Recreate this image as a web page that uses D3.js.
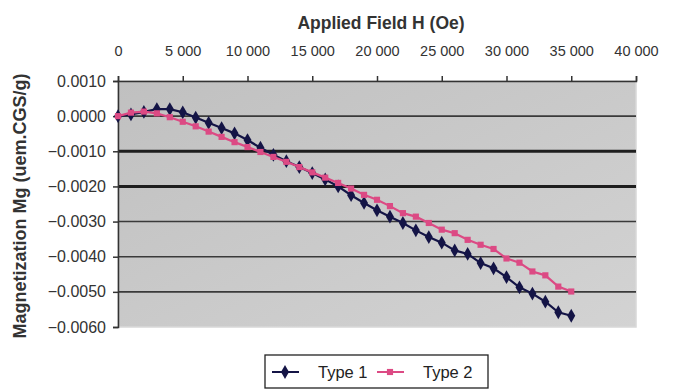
<!DOCTYPE html>
<html><head><meta charset="utf-8">
<script src="https://cdn.jsdelivr.net/npm/d3@7/dist/d3.min.js"></script>
<style>
body{margin:0;background:#fff}
svg{display:block;font-family:"Liberation Sans",Arial,sans-serif}
</style>
</head><body>
<svg id="chart" width="683" height="392"></svg>
<script>
// ---- data ----
const fieldH = [0,1000,2000,3000,4000,5000,6000,7000,8000,9000,10000,11000,12000,13000,14000,15000,16000,17000,18000,19000,20000,21000,22000,23000,24000,25000,26000,27000,28000,29000,30000,31000,32000,33000,34000,35000];
const type1 = [0.00000,0.00005,0.00012,0.00020,0.00020,0.00011,-0.00004,-0.00019,-0.00034,-0.00049,-0.00068,-0.00090,-0.00110,-0.00128,-0.00145,-0.00162,-0.00180,-0.00200,-0.00225,-0.00247,-0.00268,-0.00286,-0.00304,-0.00325,-0.00344,-0.00360,-0.00382,-0.00392,-0.00418,-0.00433,-0.00458,-0.00487,-0.00505,-0.00528,-0.00558,-0.00568];
const type2 = [0.00000,0.00010,0.00013,0.00008,-0.00003,-0.00016,-0.00029,-0.00044,-0.00059,-0.00074,-0.00088,-0.00102,-0.00116,-0.00130,-0.00145,-0.00160,-0.00175,-0.00190,-0.00206,-0.00224,-0.00238,-0.00256,-0.00276,-0.00286,-0.00304,-0.00323,-0.00333,-0.00352,-0.00366,-0.00378,-0.00405,-0.00417,-0.00442,-0.00453,-0.00485,-0.00499];
const xTicks = [0,5000,10000,15000,20000,25000,30000,35000,40000];
const yTicks = [0.001,0,-0.001,-0.002,-0.003,-0.004,-0.005,-0.006];
const seriesNames = ["Type 1","Type 2"];
const xTitle = "Applied Field H (Oe)";
const yTitle = "Magnetization Mg (uem.CGS/g)";

// ---- layout ----
const svg = d3.select("#chart");
const L = 118, R = 636, T = 81, B = 327;
const x = d3.scaleLinear().domain([0,40000]).range([L,R]);
const y = d3.scaleLinear().domain([0.001,-0.006]).range([T,B]);
const fmtX = d => d === 0 ? "0" : d3.format(",")(d).replace(/,/g," ");
const fmtY = d => d3.format(".4f")(d).replace("-0.0000","0.0000");
const col1 = "#141446", col2 = "#dc4a84";

// plot area
const defs = svg.append("defs");
const g = defs.append("linearGradient").attr("id","bg").attr("x1",0).attr("y1",0).attr("x2",1).attr("y2",1);
g.append("stop").attr("offset","0%").attr("stop-color","#c0c0c0");
g.append("stop").attr("offset","100%").attr("stop-color","#d3d3d3");
svg.append("rect").attr("x",L).attr("y",T).attr("width",R-L).attr("height",B-T)
  .attr("fill","url(#bg)").attr("stroke","#d8d8d8").attr("stroke-width",1.5);

// gridlines
const isHeavy = v => Math.abs(v+0.001)<1e-9 || Math.abs(v+0.002)<1e-9;
svg.append("g").selectAll("line").data(yTicks.filter(v => v < 0.001 && v > -0.006)).join("line")
  .attr("x1",L).attr("x2",R).attr("y1",d=>y(d)).attr("y2",d=>y(d))
  .attr("stroke",d=>isHeavy(d)?"#1e1e1e":"#3a3a3a").attr("stroke-width",d=>isHeavy(d)?3:1.6);

// axes
const yAxis = svg.append("g").attr("transform",`translate(${L},0)`)
  .call(d3.axisLeft(y).tickValues(yTicks).tickFormat(fmtY).tickSizeOuter(0).tickSize(5).tickPadding(7));
yAxis.select(".domain").attr("stroke","#333").attr("stroke-width",1.5);
yAxis.selectAll(".tick line").attr("stroke","#333").attr("stroke-width",1.5);
yAxis.selectAll("text").attr("font-size",16).attr("fill","#333").attr("font-family","Liberation Sans, Arial, sans-serif");

const xAxis = svg.append("g").attr("transform",`translate(0,${T})`)
  .call(d3.axisTop(x).tickValues(xTicks).tickFormat(fmtX).tickSizeOuter(0).tickSize(5).tickPadding(20));
xAxis.select(".domain").attr("stroke","#333").attr("stroke-width",1.5);
xAxis.selectAll(".tick line").attr("stroke","#333").attr("stroke-width",1.5);
xAxis.selectAll("text").attr("font-size",14.5).attr("fill","#333").attr("font-family","Liberation Sans, Arial, sans-serif");

// titles
svg.append("text").attr("x",(L+R)/2+4).attr("y",29).attr("text-anchor","middle")
  .attr("font-size",17.5).attr("font-weight","bold").attr("fill","#333").text(xTitle);
svg.append("text").attr("transform",`translate(26,${(T+B)/2+2}) rotate(-90)`).attr("text-anchor","middle")
  .attr("font-size",18).attr("font-weight","bold").attr("fill","#333").text(yTitle);

// series
const line = d3.line().x((d,i)=>x(fieldH[i])).y(d=>y(d));
const diamond = d3.symbol().type(d3.symbolDiamond).size(55);
const square = d3.symbol().type(d3.symbolSquare).size(38);

svg.append("path").datum(type1).attr("d",line).attr("fill","none").attr("stroke",col1).attr("stroke-width",2.2);
svg.append("g").selectAll("path").data(type1).join("path")
  .attr("transform",(d,i)=>`translate(${x(fieldH[i])},${y(d)})`).attr("d",diamond).attr("fill",col1);
svg.append("path").datum(type2).attr("d",line).attr("fill","none").attr("stroke",col2).attr("stroke-width",2.2);
svg.append("g").selectAll("path").data(type2).join("path")
  .attr("transform",(d,i)=>`translate(${x(fieldH[i])},${y(d)})`).attr("d",square).attr("fill",col2);

// legend
const lg = svg.append("g");
lg.append("rect").attr("x",265).attr("y",355).attr("width",223).attr("height",33)
  .attr("fill","#fff").attr("stroke","#222").attr("stroke-width",1.3);
const items = [{name:seriesNames[0],c:col1,sym:diamond,x0:272},{name:seriesNames[1],c:col2,sym:square,x0:377}];
items.forEach(it=>{
  lg.append("line").attr("x1",it.x0).attr("x2",it.x0+27).attr("y1",372).attr("y2",372).attr("stroke",it.c).attr("stroke-width",2);
  lg.append("path").attr("transform",`translate(${it.x0+13},372)`).attr("d",it.sym).attr("fill",it.c);
  lg.append("text").attr("x",it.x0+46).attr("y",378).attr("font-size",16.5).attr("fill","#222").text(it.name);
});
</script>
</body></html>
